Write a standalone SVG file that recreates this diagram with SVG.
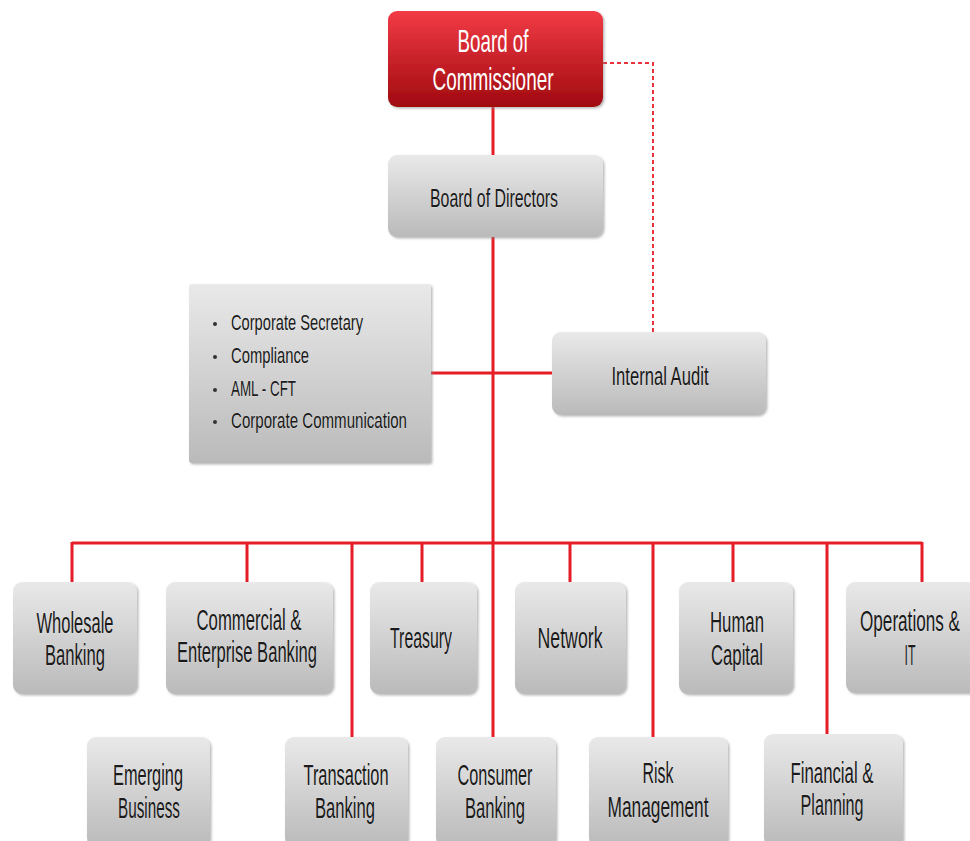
<svg xmlns="http://www.w3.org/2000/svg" width="970" height="841" viewBox="0 0 970 841">
  <defs>
    <linearGradient id="gGray" x1="0" y1="0" x2="0" y2="1">
      <stop offset="0" stop-color="#e9e9e9"/>
      <stop offset="1" stop-color="#bababa"/>
    </linearGradient>
    <linearGradient id="gRed" x1="0" y1="0" x2="0" y2="1">
      <stop offset="0" stop-color="#f23b45"/>
      <stop offset="1" stop-color="#a00a10"/>
    </linearGradient>
    <filter id="shadow" x="-10%" y="-10%" width="125%" height="125%">
      <feDropShadow dx="1.5" dy="1.5" stdDeviation="1" flood-color="#8a8a8a" flood-opacity="0.6"/>
    </filter>
  </defs>
  <style>
    .box { fill: url(#gGray); filter: url(#shadow); }
    .boxRed { fill: url(#gRed); filter: url(#shadow); }
    .lbl { font-family: "Liberation Sans Narrow", "Liberation Sans", "DejaVu Sans Condensed", sans-serif; fill: #1a1a1a; text-anchor: middle; stroke: #ffffff; stroke-width: 0.6; stroke-opacity: 0.6; paint-order: stroke; }
    .lblW { font-family: "Liberation Sans Narrow", "Liberation Sans", sans-serif; fill: #ffffff; text-anchor: middle; }
    .lst { font-family: "Liberation Sans Narrow", "Liberation Sans", "DejaVu Sans Condensed", sans-serif; fill: #1a1a1a; font-size: 22px; stroke: #ffffff; stroke-width: 0.6; stroke-opacity: 0.6; paint-order: stroke; }
    .big { font-size: 30px; }
    .mid { font-size: 26px; }
    .conn { stroke: #e51d27; stroke-width: 3; fill: none; }
    .dash { stroke: #e8323c; stroke-width: 2; fill: none; stroke-dasharray: 4 3; }
  </style>

  <!-- connectors -->
  <g id="connectors">
    <path class="dash" d="M603 63 H653 V332"/>
    <line class="conn" x1="493" y1="107" x2="493" y2="155"/>
    <line class="conn" x1="493" y1="237" x2="493" y2="737"/>
    <line class="conn" x1="431" y1="373" x2="553" y2="373"/>
    <line class="conn" x1="72" y1="543" x2="922" y2="543"/>
    <line class="conn" x1="72" y1="542" x2="72" y2="582"/>
    <line class="conn" x1="247" y1="542" x2="247" y2="582"/>
    <line class="conn" x1="352" y1="542" x2="352" y2="737"/>
    <line class="conn" x1="422" y1="542" x2="422" y2="582"/>
    <line class="conn" x1="570" y1="542" x2="570" y2="582"/>
    <line class="conn" x1="653" y1="542" x2="653" y2="737"/>
    <line class="conn" x1="733" y1="542" x2="733" y2="582"/>
    <line class="conn" x1="827" y1="542" x2="827" y2="734"/>
    <line class="conn" x1="922" y1="542" x2="922" y2="582"/>
  </g>

  <g id="board-of-commissioner">
    <rect class="boxRed" x="388" y="11" width="215" height="96" rx="9"/>
    <text class="lblW" x="493" y="52" font-size="32" textLength="71" lengthAdjust="spacingAndGlyphs">Board of</text>
    <text class="lblW" x="493" y="90" font-size="32" textLength="121" lengthAdjust="spacingAndGlyphs">Commissioner</text>
  </g>

  <g id="board-of-directors">
    <rect class="box" x="388" y="155" width="215" height="82" rx="9"/>
    <text class="lbl mid" x="494" y="207" textLength="128" lengthAdjust="spacingAndGlyphs">Board of Directors</text>
  </g>

  <g id="corporate-functions">
    <rect class="box" x="189" y="284" width="242" height="179" rx="3"/>
    <circle cx="215" cy="324" r="2" fill="#333"/>
    <circle cx="215" cy="357" r="2" fill="#333"/>
    <circle cx="215" cy="390" r="2" fill="#333"/>
    <circle cx="215" cy="422" r="2" fill="#333"/>
    <text class="lst" x="231" y="330" textLength="132" lengthAdjust="spacingAndGlyphs">Corporate Secretary</text>
    <text class="lst" x="231" y="363" textLength="78" lengthAdjust="spacingAndGlyphs">Compliance</text>
    <text class="lst" x="231" y="396" textLength="65" lengthAdjust="spacingAndGlyphs">AML - CFT</text>
    <text class="lst" x="231" y="428" textLength="176" lengthAdjust="spacingAndGlyphs">Corporate Communication</text>
  </g>

  <g id="internal-audit">
    <rect class="box" x="552" y="332" width="214" height="83" rx="9"/>
    <text class="lbl mid" x="660" y="385" textLength="97" lengthAdjust="spacingAndGlyphs">Internal Audit</text>
  </g>

  <g id="wholesale-banking">
    <rect class="box" x="13" y="582" width="124" height="112" rx="9"/>
    <text class="lbl big" x="75" y="633" textLength="77" lengthAdjust="spacingAndGlyphs">Wholesale</text>
    <text class="lbl big" x="75" y="665" textLength="60" lengthAdjust="spacingAndGlyphs">Banking</text>
  </g>

  <g id="commercial-enterprise-banking">
    <rect class="box" x="166" y="582" width="167" height="112" rx="9"/>
    <text class="lbl big" x="249" y="630" textLength="105" lengthAdjust="spacingAndGlyphs">Commercial &amp;</text>
    <text class="lbl big" x="247" y="662" textLength="140" lengthAdjust="spacingAndGlyphs">Enterprise Banking</text>
  </g>

  <g id="treasury">
    <rect class="box" x="370" y="582" width="107" height="112" rx="9"/>
    <text class="lbl big" x="421" y="648" textLength="62" lengthAdjust="spacingAndGlyphs">Treasury</text>
  </g>

  <g id="network">
    <rect class="box" x="515" y="582" width="111" height="112" rx="9"/>
    <text class="lbl big" x="570" y="648" textLength="65" lengthAdjust="spacingAndGlyphs">Network</text>
  </g>

  <g id="human-capital">
    <rect class="box" x="679" y="582" width="114" height="112" rx="9"/>
    <text class="lbl big" x="737" y="632" textLength="54" lengthAdjust="spacingAndGlyphs">Human</text>
    <text class="lbl big" x="737" y="665" textLength="52" lengthAdjust="spacingAndGlyphs">Capital</text>
  </g>

  <g id="operations-it">
    <rect class="box" x="846" y="582" width="134" height="111" rx="9"/>
    <text class="lbl big" x="910" y="631" textLength="100" lengthAdjust="spacingAndGlyphs">Operations &amp;</text>
    <text class="lbl big" x="910" y="665" textLength="11" lengthAdjust="spacingAndGlyphs">IT</text>
  </g>

  <g id="emerging-business">
    <rect class="box" x="87" y="737" width="123" height="110" rx="9"/>
    <text class="lbl big" x="148" y="785" textLength="70" lengthAdjust="spacingAndGlyphs">Emerging</text>
    <text class="lbl big" x="149" y="818" textLength="62" lengthAdjust="spacingAndGlyphs">Business</text>
  </g>

  <g id="transaction-banking">
    <rect class="box" x="285" y="737" width="123" height="110" rx="9"/>
    <text class="lbl big" x="346" y="785" textLength="85" lengthAdjust="spacingAndGlyphs">Transaction</text>
    <text class="lbl big" x="345" y="818" textLength="60" lengthAdjust="spacingAndGlyphs">Banking</text>
  </g>

  <g id="consumer-banking">
    <rect class="box" x="436" y="737" width="120" height="110" rx="9"/>
    <text class="lbl big" x="495" y="785" textLength="75" lengthAdjust="spacingAndGlyphs">Consumer</text>
    <text class="lbl big" x="495" y="818" textLength="60" lengthAdjust="spacingAndGlyphs">Banking</text>
  </g>

  <g id="risk-management">
    <rect class="box" x="589" y="737" width="139" height="110" rx="9"/>
    <text class="lbl big" x="658" y="783" textLength="31" lengthAdjust="spacingAndGlyphs">Risk</text>
    <text class="lbl big" x="658" y="817" textLength="101" lengthAdjust="spacingAndGlyphs">Management</text>
  </g>

  <g id="financial-planning">
    <rect class="box" x="764" y="734" width="139" height="113" rx="9"/>
    <text class="lbl big" x="832" y="783" textLength="83" lengthAdjust="spacingAndGlyphs">Financial &amp;</text>
    <text class="lbl big" x="832" y="815" textLength="63" lengthAdjust="spacingAndGlyphs">Planning</text>
  </g>
</svg>
